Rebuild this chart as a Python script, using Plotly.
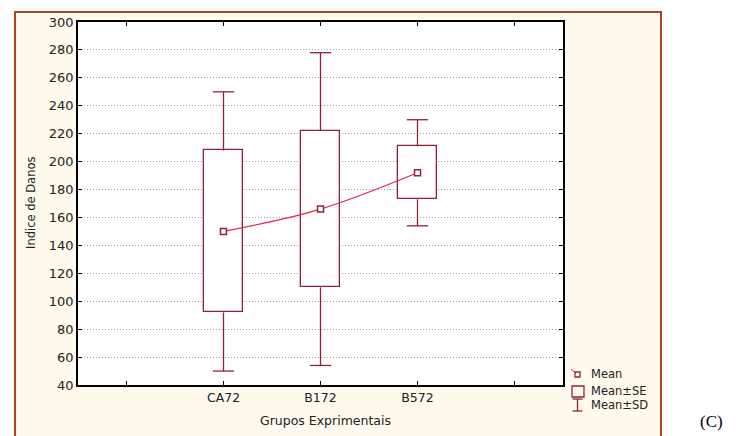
import plotly.graph_objects as go

# ---- data ----
groups = ["CA72", "B172", "B572"]
means = [150, 166, 192]
se = [58, 56, 19]
sd = [100, 112, 38]
tick_labels = ["", "CA72", "B172", "B572", ""]
y_ticks = list(range(40, 301, 20))

# ---- styling ----
W, H = 743, 436
L, R, T, B = 78, 180, 22, 51
PW, PH = W - L - R, H - T - B
box_col = "#8E2433"
line_col = "#E0284A"
frame_col = "#A8461E"
cream = "#FFF9EE"

def xp(px):
    return (px - L) / PW

def yp(py):
    return (H - B - py) / PH

xpos = [i + 1 for i in range(len(groups))]

fig = go.Figure()

# SE boxes
fig.add_trace(go.Bar(
    x=xpos,
    y=[2 * s for s in se],
    base=[m - s for m, s in zip(means, se)],
    width=0.4,
    marker=dict(color="white", line=dict(color=box_col, width=1.3)),
    hoverinfo="skip", showlegend=False,
))

# SD whiskers (outside the box) and caps
wx, wy = [], []
cap = 0.11
for x, m, s, d in zip(xpos, means, se, sd):
    wx += [x, x, None, x, x, None]
    wy += [m + s, m + d, None, m - s, m - d, None]
    wx += [x - cap, x + cap, None, x - cap, x + cap, None]
    wy += [m + d, m + d, None, m - d, m - d, None]
fig.add_trace(go.Scatter(x=wx, y=wy, mode="lines",
                         line=dict(color=box_col, width=1.3),
                         hoverinfo="skip", showlegend=False))

# mean line
fig.add_trace(go.Scatter(
    x=xpos, y=means, mode="lines+markers",
    line=dict(color=line_col, width=1.2, shape="spline"),
    marker=dict(symbol="square", size=6, color="white",
                line=dict(color=box_col, width=1.5)),
    hoverinfo="skip", showlegend=False,
))

shapes = []
# outer cream frame
shapes.append(dict(type="rect", xref="paper", yref="paper",
                   x0=xp(15), x1=xp(661), y0=yp(445), y1=yp(12),
                   fillcolor=cream, line=dict(color=frame_col, width=2),
                   layer="below"))
# white plot area
shapes.append(dict(type="rect", xref="paper", yref="paper",
                   x0=0, x1=1, y0=0, y1=1,
                   fillcolor="white", line=dict(width=0),
                   layer="below"))
# legend icons
shapes.append(dict(type="line", xref="paper", yref="paper",
                   x0=xp(571), y0=yp(369), x1=xp(578), y1=yp(375),
                   line=dict(color=line_col, width=1)))
shapes.append(dict(type="rect", xref="paper", yref="paper",
                   x0=xp(575), x1=xp(580), y0=yp(377), y1=yp(372),
                   fillcolor="white", line=dict(color=box_col, width=1.3)))
shapes.append(dict(type="rect", xref="paper", yref="paper",
                   x0=xp(572), x1=xp(584), y0=yp(397), y1=yp(386),
                   fillcolor="rgba(0,0,0,0)", line=dict(color=box_col, width=1.3)))
shapes.append(dict(type="line", xref="paper", yref="paper",
                   x0=xp(577.5), x1=xp(577.5), y0=yp(399), y1=yp(411),
                   line=dict(color=box_col, width=1.3)))
for py in (399, 411):
    shapes.append(dict(type="line", xref="paper", yref="paper",
                       x0=xp(572.5), x1=xp(582.5), y0=yp(py), y1=yp(py),
                       line=dict(color=box_col, width=1.3)))

font_main = "DejaVu Sans, Verdana, sans-serif"
txt_col = "#222"
def ann(text, px, py, size=11, anchor="left", angle=0, family=font_main, color=txt_col):
    return dict(text=text, x=xp(px), y=yp(py), xref="paper", yref="paper",
                xanchor=anchor, yanchor="middle", showarrow=False, textangle=angle,
                font=dict(size=size, color=color, family=family))

annotations = [
    ann("Mean", 589, 374, size=11.5),
    ann("Mean±SE", 589, 391, size=11.5),
    ann("Mean±SD", 589, 405, size=11.5),
    ann("Grupos Exprimentais", 325, 420, size=12.5, anchor="center"),
    ann("Indice de Danos", 31, 203, size=11.5, anchor="center", angle=-90),
    ann("(C)", 711, 421, size=17, anchor="center",
        family="Liberation Serif, Times New Roman, serif", color="#000"),
]

fig.update_layout(
    width=W, height=H,
    margin=dict(l=L, r=R, t=T, b=B),
    paper_bgcolor="white", plot_bgcolor="white",
    shapes=shapes, annotations=annotations,
    showlegend=False, bargap=0,
    font=dict(family=font_main, size=11, color=txt_col),
)
fig.update_xaxes(
    range=[-0.5, 4.5], tickvals=list(range(5)), ticktext=tick_labels,
    ticks="inside", ticklen=4, tickcolor="black", mirror="ticks",
    showline=True, linecolor="black", linewidth=1.5,
    showgrid=False, zeroline=False, tickfont=dict(size=12.5),
)
fig.update_yaxes(
    range=[40, 300], tickvals=y_ticks,
    ticks="inside", ticklen=4, tickcolor="black", mirror="ticks",
    showline=True, linecolor="black", linewidth=1.5,
    showgrid=True, gridcolor="#A0A0A0", griddash="1px,2px", gridwidth=1,
    zeroline=False, tickfont=dict(size=13),
)

fig.write_html("out.html")
